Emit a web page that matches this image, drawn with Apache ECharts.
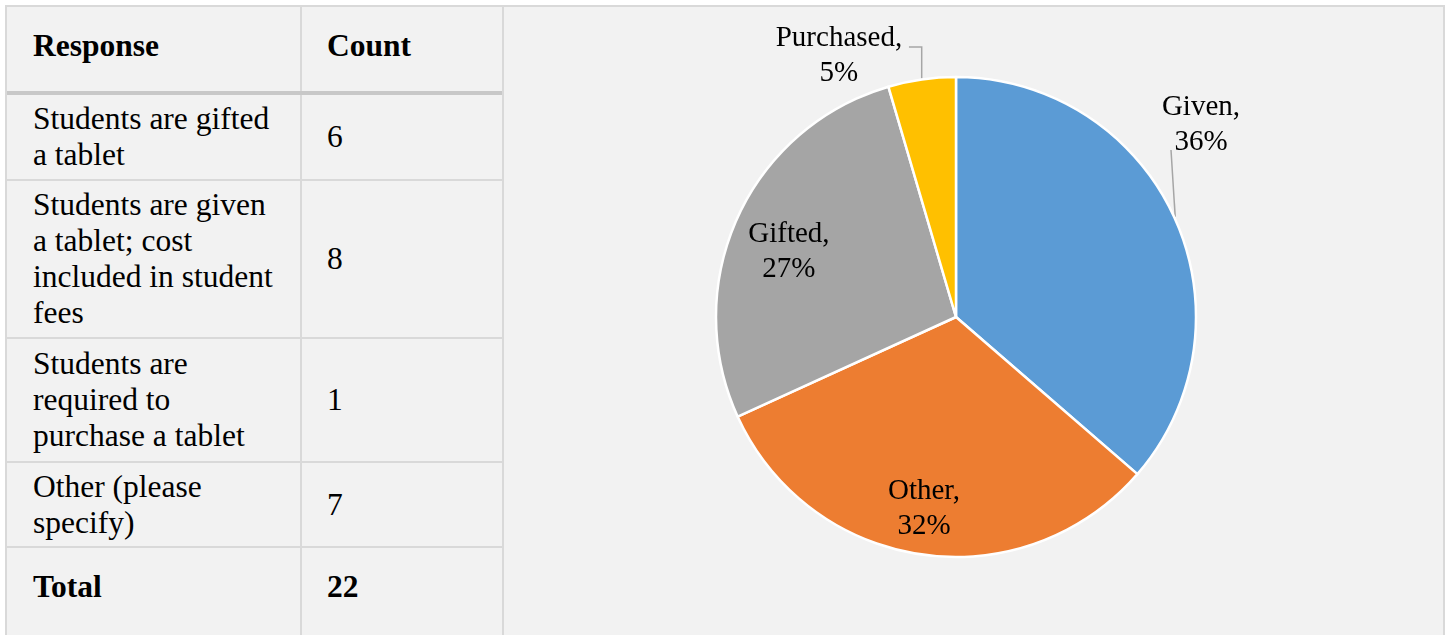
<!DOCTYPE html>
<html>
<head>
<meta charset="utf-8">
<script src="https://cdn.jsdelivr.net/npm/echarts@6/dist/echarts.min.js"></script>
<style>
  html, body { margin: 0; padding: 0; background: #ffffff; width: 1447px; height: 635px; overflow: hidden; }
  #frame { position: absolute; left: 5px; top: 5px; width: 1440px; height: 640px; background: #d9d9d9; }
  .cell { position: absolute; background: #f2f2f2; box-sizing: border-box;
          font-family: "Liberation Serif", "Times New Roman", serif; font-size: 31.5px; line-height: 36px; color: #000;
          display: flex; align-items: center; }
  .cell.top { align-items: flex-start; padding-top: 21px; font-weight: bold; }
  .txt { width: 248px; }
  #sep { position: absolute; background: #c8c8c8; }
  #chart { position: absolute; left: 0; top: 0; width: 1447px; height: 635px; }
</style>
</head>
<body>
<div id="frame"></div>
<div id="table"></div>
<div id="chart"></div>
<script>
// ---- table data ----
const headers = ['Response', 'Count'];
const responses = [
  'Students are gifted a tablet',
  'Students are given a tablet; cost included in student fees',
  'Students are required to purchase a tablet',
  'Other (please specify)'
];
const counts = [6, 8, 1, 7];
const totalLabel = 'Total';
const totalCount = 22;

// ---- pie data ----
const categories = ['Given', 'Other', 'Gifted', 'Purchased'];
const values = [8, 7, 6, 1];

// ---- styles / layout ----
const colors = ['#5B9BD5', '#ED7D31', '#A5A5A5', '#FFC000'];
const colA = [7, 300], colB = [302, 502], colC = [504, 1443];
const rowBands = [[7, 91], [95, 179], [181, 337], [339, 461], [463, 546], [548, 640]];
const padA = 26, padB = 25;
// label placement: angle offset from slice mid-angle (deg), radius factor, leader line end offset from label center, elbow
const labelPlacement = [
  { dAngle: -13.55, rFactor: 1.297, line: true, end: [-30, 25], elbow: false },
  { dAngle: 1.28, rFactor: 0.811, line: false },
  { dAngle: -3.28, rFactor: 0.747, line: false },
  { dAngle: -15.97, rFactor: 1.192, line: true, end: [70, -9], elbow: true }
];
const pieCenter = [956, 317], pieRadius = 240;

// ---- build table ----
const tbl = document.getElementById('table');
function addCell(col, band, text, pad, cls) {
  const d = document.createElement('div');
  d.className = 'cell' + (cls ? ' ' + cls : '');
  d.style.left = col[0] + 'px';
  d.style.width = (col[1] - col[0]) + 'px';
  d.style.top = band[0] + 'px';
  d.style.height = (band[1] - band[0]) + 'px';
  d.style.paddingLeft = pad + 'px';
  const s = document.createElement('div');
  s.className = 'txt';
  s.textContent = text;
  d.appendChild(s);
  tbl.appendChild(d);
}
addCell(colA, rowBands[0], headers[0], padA, 'top');
addCell(colB, rowBands[0], headers[1], padB, 'top');
responses.forEach((r, i) => {
  addCell(colA, rowBands[i + 1], r, padA);
  addCell(colB, rowBands[i + 1], String(counts[i]), padB);
});
addCell(colA, rowBands[5], totalLabel, padA, 'top');
addCell(colB, rowBands[5], String(totalCount), padB, 'top');
const sep = document.createElement('div');
sep.id = 'sep';
sep.style.left = colA[0] + 'px'; sep.style.width = (colB[1] - colA[0]) + 'px';
sep.style.top = rowBands[0][1] + 'px'; sep.style.height = (rowBands[1][0] - rowBands[0][1]) + 'px';
tbl.appendChild(sep);
const panel = document.createElement('div');
panel.className = 'cell';
panel.style.left = colC[0] + 'px'; panel.style.width = (colC[1] - colC[0]) + 'px';
panel.style.top = '7px'; panel.style.height = '640px';
tbl.appendChild(panel);

// ---- pie ----
const total = values.reduce((a, b) => a + b, 0);
const midAngles = [];
let cum = 0;
values.forEach(v => { midAngles.push((cum + v / 2) / total * 360); cum += v; });

const chart = echarts.init(document.getElementById('chart'), null, { renderer: 'canvas' });
const font = '"Liberation Serif", "Times New Roman", serif';
chart.setOption({
  animation: false,
  series: [{
    type: 'pie',
    center: pieCenter,
    radius: pieRadius,
    startAngle: 90,
    clockwise: true,
    percentPrecision: 0,
    avoidLabelOverlap: false,
    emphasis: { disabled: true },
    itemStyle: { borderColor: '#ffffff', borderWidth: 2.5 },
    label: {
      show: true, position: 'outside', formatter: '{b},\n{d}%',
      fontFamily: font, fontSize: 29, lineHeight: 35, color: '#000000'
    },
    labelLine: { show: true, lineStyle: { color: '#a6a6a6', width: 1.5 } },
    labelLayout: function (params) {
      const i = params.dataIndex;
      const p = labelPlacement[i];
      const mid = midAngles[i];
      const a = (mid + p.dAngle) * Math.PI / 180;
      const r = pieRadius * p.rFactor;
      const x = pieCenter[0] + r * Math.sin(a);
      const y = pieCenter[1] - r * Math.cos(a);
      const out = { x: x, y: y, align: 'center', verticalAlign: 'middle' };
      if (p.line) {
        const m = mid * Math.PI / 180;
        const sx = pieCenter[0] + (pieRadius + 1) * Math.sin(m);
        const sy = pieCenter[1] - (pieRadius + 1) * Math.cos(m);
        const ex = x + p.end[0], ey = y + p.end[1];
        const mx = p.elbow ? sx : ex, my = ey;
        out.labelLinePoints = [[sx, sy], [mx, my], [ex, ey]];
      }
      return out;
    },
    data: categories.map((c, i) => ({
      name: c, value: values[i],
      itemStyle: { color: colors[i] },
      labelLine: { show: labelPlacement[i].line }
    }))
  }]
});
</script>
</body>
</html>
